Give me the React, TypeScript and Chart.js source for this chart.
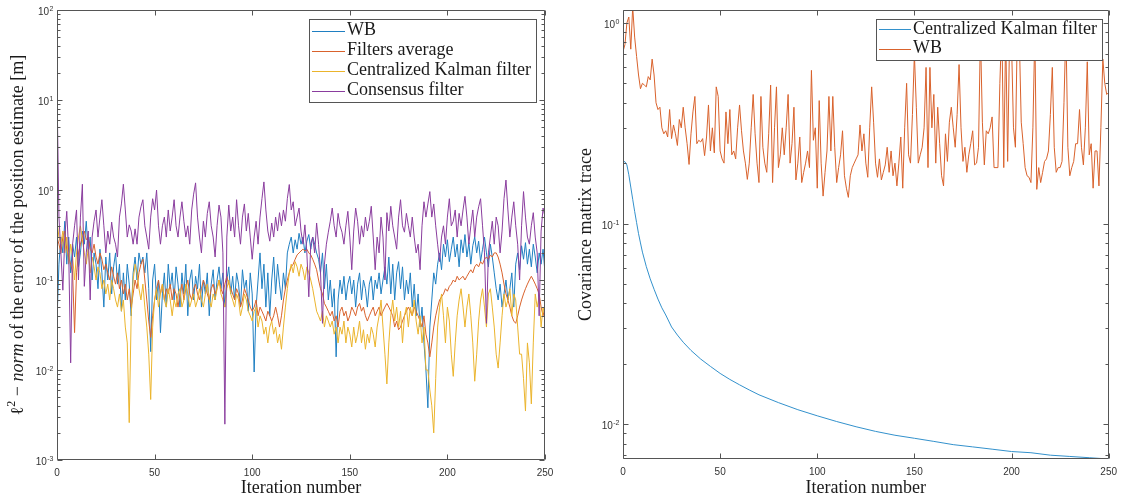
import React, { useEffect, useRef } from 'react';
import { Chart, registerables } from 'chart.js';

Chart.register(...registerables);

// ---------- categories ----------
const iterations: number[] = Array.from({ length: 251 }, (_, i) => i);
const xTickValues = [0, 50, 100, 150, 200, 250];

// ---------- left panel: l2-norm of position error ----------
const leftWB = [
  0.035, 0.15, 0.3, 0.2, 0.45, 0.15, 0.3, 0.12, 0.25, 0.18,
  0.3, 0.14, 0.2, 0.35, 0.25, 0.45, 0.2, 0.3, 0.1, 0.2,
  0.15, 0.08, 0.22, 0.12, 0.05, 0.18, 0.1, 0.2, 0.07, 0.14,
  0.2, 0.09, 0.15, 0.045, 0.12, 0.06, 0.15, 0.09, 0.04, 0.12,
  0.18, 0.1, 0.2, 0.15, 0.18, 0.12, 0.2, 0.08, 0.016, 0.1,
  0.15, 0.06, 0.1, 0.026, 0.07, 0.12, 0.05, 0.15, 0.08, 0.12,
  0.06, 0.14, 0.09, 0.05, 0.12, 0.07, 0.15, 0.04, 0.1, 0.13,
  0.06, 0.11, 0.08, 0.15, 0.05, 0.1, 0.07, 0.12, 0.04, 0.09,
  0.13, 0.06, 0.1, 0.14, 0.08, 0.12, 0.05, 0.1, 0.14, 0.07,
  0.11, 0.06, 0.12, 0.09, 0.05, 0.13, 0.08, 0.1, 0.045, 0.12,
  0.07, 0.0095, 0.05, 0.1, 0.2, 0.08, 0.15, 0.05, 0.12, 0.04,
  0.1, 0.18, 0.07, 0.15, 0.09, 0.06, 0.12, 0.08, 0.2, 0.25,
  0.3, 0.2, 0.28, 0.22, 0.33, 0.25, 0.3, 0.2, 0.27, 0.32,
  0.22, 0.3, 0.25, 0.2, 0.17, 0.12, 0.2, 0.08, 0.15, 0.06,
  0.1, 0.05, 0.08, 0.014, 0.06, 0.1, 0.07, 0.11, 0.06, 0.09,
  0.11, 0.07, 0.1, 0.05, 0.09, 0.12, 0.06, 0.1, 0.08, 0.05,
  0.09, 0.11, 0.06, 0.1, 0.08, 0.12, 0.07, 0.1, 0.14, 0.09,
  0.18, 0.07, 0.15, 0.06, 0.12, 0.16, 0.08, 0.14, 0.06, 0.1,
  0.07, 0.12, 0.05, 0.09, 0.04, 0.07, 0.03, 0.05, 0.02, 0.01,
  0.0038, 0.03, 0.06, 0.12, 0.09, 0.15, 0.2, 0.13, 0.25, 0.18,
  0.28, 0.16, 0.22, 0.3, 0.18, 0.25, 0.14, 0.28, 0.2, 0.32,
  0.18, 0.26, 0.15, 0.24, 0.3, 0.2, 0.27, 0.16, 0.22, 0.3,
  0.2, 0.14, 0.25, 0.18, 0.12, 0.08, 0.06, 0.09, 0.05, 0.07,
  0.1, 0.06, 0.08, 0.12, 0.05, 0.15, 0.2, 0.13, 0.24, 0.17,
  0.26, 0.15, 0.22, 0.14, 0.25, 0.18, 0.12, 0.2, 0.15, 0.22,
  0.12,
];

const leftFiltersAverage = [
  0.3, 0.25, 0.2, 0.3, 0.35, 0.22, 0.18, 0.15, 0.12, 0.026,
  0.12, 0.2, 0.25, 0.3, 0.35, 0.28, 0.3, 0.22, 0.2, 0.25,
  0.18, 0.15, 0.2, 0.17, 0.13, 0.15, 0.12, 0.1, 0.14, 0.11,
  0.09, 0.12, 0.08, 0.1, 0.07, 0.09, 0.06, 0.08, 0.05, 0.07,
  0.1, 0.08, 0.12, 0.15, 0.17, 0.1, 0.06, 0.035, 0.023, 0.04,
  0.06, 0.08, 0.1, 0.07, 0.09, 0.06, 0.08, 0.07, 0.09, 0.06,
  0.08, 0.07, 0.05, 0.07, 0.09, 0.06, 0.08, 0.1, 0.07, 0.06,
  0.08, 0.09, 0.07, 0.06, 0.08, 0.1, 0.085, 0.07, 0.06, 0.08,
  0.09, 0.07, 0.08, 0.1, 0.08, 0.07, 0.09, 0.11, 0.09, 0.08,
  0.07, 0.06, 0.08, 0.07, 0.05, 0.06, 0.08, 0.07, 0.06, 0.05,
  0.045, 0.05, 0.06, 0.04, 0.05, 0.045, 0.04, 0.035, 0.045, 0.04,
  0.035, 0.04, 0.05, 0.04, 0.03, 0.04, 0.06, 0.08, 0.1, 0.12,
  0.14, 0.15, 0.17, 0.19, 0.2, 0.21, 0.22, 0.21, 0.22, 0.2,
  0.19, 0.17, 0.15, 0.13, 0.1, 0.08, 0.07, 0.055, 0.05, 0.045,
  0.04, 0.045, 0.035, 0.04, 0.03, 0.045, 0.05, 0.04, 0.045, 0.035,
  0.04, 0.05, 0.045, 0.04, 0.05, 0.055, 0.045, 0.05, 0.04, 0.035,
  0.04, 0.045, 0.05, 0.04, 0.045, 0.05, 0.04, 0.045, 0.05, 0.055,
  0.05, 0.045, 0.04, 0.03, 0.035, 0.028, 0.03, 0.035, 0.04, 0.045,
  0.05, 0.045, 0.04, 0.05, 0.045, 0.04, 0.035, 0.03, 0.04, 0.025,
  0.02, 0.014, 0.02, 0.03, 0.04, 0.05, 0.06, 0.065, 0.07, 0.08,
  0.075, 0.085, 0.09, 0.1, 0.095, 0.11, 0.1, 0.105, 0.11, 0.1,
  0.11, 0.12, 0.13, 0.12, 0.14, 0.15, 0.14, 0.16, 0.15, 0.17,
  0.18, 0.17, 0.19, 0.18, 0.2, 0.2, 0.18, 0.15, 0.12, 0.09,
  0.07, 0.06, 0.05, 0.04, 0.035, 0.033, 0.04, 0.05, 0.06, 0.07,
  0.08, 0.09, 0.1, 0.11, 0.1, 0.09, 0.08, 0.07, 0.05, 0.04,
  0.05,
];

const leftCentralizedKF = [
  0.45, 0.3, 0.25, 0.35, 0.2, 0.3, 0.15, 0.25, 0.18, 0.1,
  0.2, 0.3, 0.4, 0.28, 0.2, 0.15, 0.22, 0.12, 0.18, 0.14,
  0.1, 0.14, 0.12, 0.08, 0.1, 0.07, 0.09, 0.06, 0.1, 0.08,
  0.06, 0.05, 0.07, 0.045, 0.06, 0.03, 0.02, 0.0026, 0.04, 0.1,
  0.15, 0.12, 0.08, 0.06, 0.09, 0.05, 0.03, 0.015, 0.0047, 0.03,
  0.06, 0.08, 0.05, 0.07, 0.09, 0.06, 0.05, 0.08, 0.06, 0.04,
  0.06, 0.05, 0.07, 0.08, 0.05, 0.06, 0.09, 0.07, 0.05, 0.06,
  0.07, 0.05, 0.06, 0.08, 0.06, 0.05, 0.07, 0.09, 0.06, 0.05,
  0.07, 0.06, 0.08, 0.1, 0.07, 0.06, 0.05, 0.08, 0.1, 0.07,
  0.06, 0.05, 0.07, 0.06, 0.04, 0.05, 0.07, 0.06, 0.045, 0.04,
  0.035, 0.045, 0.05, 0.03, 0.04, 0.035, 0.025, 0.03, 0.02, 0.03,
  0.035, 0.025, 0.03, 0.02, 0.025, 0.017, 0.03, 0.05, 0.08, 0.12,
  0.15, 0.12, 0.16, 0.14, 0.11, 0.15, 0.13, 0.1, 0.14, 0.12,
  0.1, 0.08, 0.06, 0.045, 0.04, 0.035, 0.045, 0.03, 0.04, 0.035,
  0.03, 0.035, 0.025, 0.03, 0.02, 0.03, 0.025, 0.035, 0.02, 0.03,
  0.025, 0.018, 0.03, 0.02, 0.025, 0.035, 0.02, 0.028, 0.017, 0.025,
  0.02, 0.03, 0.025, 0.018, 0.03, 0.04, 0.06, 0.03, 0.015, 0.007,
  0.02, 0.04, 0.06, 0.035, 0.05, 0.03, 0.045, 0.02, 0.04, 0.05,
  0.03, 0.05, 0.04, 0.06, 0.035, 0.025, 0.04, 0.02, 0.03, 0.01,
  0.01, 0.006, 0.004, 0.002, 0.008, 0.03, 0.05, 0.07, 0.04, 0.02,
  0.05, 0.035, 0.015, 0.0085, 0.02, 0.04, 0.06, 0.08, 0.05, 0.03,
  0.05, 0.07, 0.04, 0.02, 0.0075, 0.015, 0.035, 0.06, 0.08, 0.05,
  0.03, 0.07, 0.08, 0.05, 0.03, 0.015, 0.0105, 0.02, 0.04, 0.07,
  0.05, 0.06, 0.08, 0.04, 0.07, 0.06, 0.03, 0.015, 0.015, 0.008,
  0.0035, 0.02, 0.012, 0.0042, 0.02, 0.07, 0.05, 0.065, 0.03, 0.05,
  0.04,
];

const leftConsensus = [
  13, 0.5, 0.2, 0.077, 0.3, 0.58, 0.2, 0.012, 0.25, 0.4,
  0.6, 0.1, 0.5, 1.16, 0.085, 0.2, 0.35, 0.06, 0.3, 0.45,
  0.6, 0.3, 0.5, 0.78, 0.4, 0.2, 0.35, 0.25, 0.44, 0.3,
  0.25, 0.18, 0.5, 0.7, 1.16, 0.6, 0.3, 0.41, 0.35, 0.25,
  0.37, 0.25, 0.5, 0.65, 0.78, 0.4, 0.3, 0.22, 0.5, 0.8,
  0.6, 1.0, 0.4, 0.25, 0.4, 0.5, 0.3, 0.6, 0.35, 0.5,
  0.78, 0.4, 0.3, 0.5, 0.74, 0.45, 0.3, 0.4, 0.25, 0.6,
  0.9, 1.2, 0.5, 0.3, 0.2, 0.45, 0.3, 0.55, 0.74, 0.4,
  0.3, 0.18, 0.4, 0.68, 0.5, 0.2, 0.0025, 0.3, 0.68, 0.35,
  0.5, 0.3, 0.78, 0.4, 0.25, 0.5, 0.7, 0.35, 0.55, 0.3,
  0.17, 0.3, 0.45, 0.25, 0.5, 0.8, 1.23, 0.6, 0.35, 0.27,
  0.43, 0.3, 0.5, 0.35, 0.56, 0.4, 0.6, 0.45, 0.8, 1.15,
  0.6, 0.74, 0.4, 0.5, 0.63, 0.35, 0.25, 0.41, 0.2, 0.065,
  0.25, 0.3, 0.2, 0.43, 0.25, 0.12, 0.033, 0.15, 0.25, 0.34,
  0.45, 0.63, 0.4, 0.3, 0.55, 0.4, 0.34, 0.25, 0.4, 0.58,
  0.3, 0.13, 0.35, 0.63, 0.45, 0.25, 0.4, 0.3, 0.5, 0.35,
  0.45, 0.66, 0.3, 0.13, 0.3, 0.2, 0.5, 0.3, 0.1, 0.56,
  0.35, 0.66, 0.4, 0.3, 0.22, 0.5, 0.78, 0.4, 0.34, 0.55,
  0.4, 0.3, 0.5, 0.3, 0.2, 0.25, 0.13, 0.4, 0.74, 0.5,
  0.7, 0.96, 0.5, 0.7, 0.4, 0.25, 0.16, 0.3, 0.4, 0.25,
  0.5, 0.8, 0.4, 0.45, 0.6, 0.3, 0.55, 0.4, 0.6, 0.85,
  0.5, 0.25, 0.4, 0.6, 0.3, 0.5, 0.65, 0.8, 0.4, 0.2,
  0.033, 0.2, 0.3, 0.45, 0.25, 0.5, 0.4, 0.2, 0.35, 0.8,
  1.29, 0.6, 0.3, 0.5, 0.74, 0.4, 0.25, 0.1, 0.4, 0.96,
  0.5, 0.3, 0.25, 0.4, 0.56, 0.3, 0.2, 0.04, 0.35, 0.63,
  0.5,
];

// ---------- right panel: covariance matrix trace ----------
const rightWB = [
  0.72, 0.78, 1.0, 1.07, 0.74, 1.2, 0.85, 0.68, 0.55, 0.47,
  0.5, 0.49, 0.48, 0.54, 0.52, 0.66, 0.55, 0.4, 0.37, 0.38,
  0.3, 0.28, 0.29, 0.27, 0.37, 0.265, 0.31, 0.28, 0.245, 0.33,
  0.3, 0.38, 0.3, 0.25, 0.197, 0.28, 0.36, 0.43, 0.25, 0.26,
  0.255, 0.265, 0.218, 0.27, 0.39, 0.23, 0.3, 0.225, 0.48, 0.43,
  0.23, 0.21, 0.2, 0.36, 0.25, 0.37, 0.22, 0.23, 0.21, 0.3,
  0.39, 0.29, 0.23, 0.2, 0.166, 0.2, 0.3, 0.44, 0.28, 0.2,
  0.16, 0.43, 0.24, 0.2, 0.18, 0.28, 0.49, 0.16, 0.3, 0.48,
  0.19, 0.22, 0.3, 0.22, 0.3, 0.44, 0.2, 0.25, 0.38, 0.165,
  0.2, 0.27, 0.16, 0.18, 0.2, 0.23, 0.19, 0.58, 0.26, 0.3,
  0.15, 0.41, 0.2, 0.137, 0.18, 0.23, 0.43, 0.23, 0.43, 0.24,
  0.16, 0.19, 0.22, 0.29, 0.173, 0.15, 0.135, 0.173, 0.19, 0.2,
  0.21, 0.22, 0.31, 0.23, 0.28, 0.2, 0.17, 0.3, 0.48, 0.32,
  0.2, 0.17, 0.21, 0.165, 0.18, 0.196, 0.24, 0.18, 0.23, 0.173,
  0.2, 0.154, 0.2, 0.27, 0.15, 0.3, 0.5, 0.22, 0.2, 0.35,
  0.7, 0.38, 0.2, 0.22, 0.24, 0.3, 0.6, 0.19, 0.6, 0.3,
  0.44, 0.2, 0.38, 0.25, 0.173, 0.154, 0.28, 0.204, 0.32, 0.38,
  0.3, 0.24, 0.35, 0.62, 0.3, 0.204, 0.24, 0.18, 0.22, 0.25,
  0.29, 0.196, 0.2, 0.24, 0.9, 0.32, 0.196, 0.29, 0.28, 0.3,
  0.34, 0.19, 0.19, 0.19, 0.5, 1.0, 0.19, 0.9, 0.204, 0.85,
  0.8, 0.3, 0.24, 0.95, 0.85, 0.32, 0.25, 0.19, 0.173, 0.17,
  0.16, 0.3, 0.9, 0.148, 0.19, 0.16, 0.18, 0.204, 0.21, 0.23,
  0.35, 0.6, 0.24, 0.18, 0.19, 0.19, 0.204, 0.4, 0.95, 0.24,
  0.173, 0.19, 0.204, 0.25, 0.25, 0.37, 0.24, 0.196, 0.3, 0.64,
  0.22, 0.25, 0.15, 0.23, 0.23, 0.154, 0.3, 0.66, 0.5, 0.44,
  0.45,
];

const kalmanIterations = [
  0, 1, 2, 3, 4, 5, 6, 7, 8, 9, 10, 12, 14, 16, 18, 20, 22, 25, 28, 31,
  35, 40, 45, 50, 55, 60, 65, 70, 80, 90, 100, 110, 120, 130, 140, 150,
  160, 170, 180, 190, 200, 210, 220, 230, 240, 250,
];
const kalmanTrace = [
  0.205, 0.203, 0.196, 0.175, 0.152, 0.132, 0.115, 0.101, 0.089, 0.08,
  0.072, 0.061, 0.053, 0.047, 0.042, 0.038, 0.035, 0.0305, 0.0278, 0.0256,
  0.0233, 0.0211, 0.0194, 0.0179, 0.0167, 0.0157, 0.0148, 0.014, 0.0128, 0.0118,
  0.011, 0.0103, 0.0097, 0.0092, 0.0088, 0.0085, 0.0082, 0.0079, 0.0077, 0.0075,
  0.0073, 0.0072, 0.007, 0.0069, 0.0068, 0.0067,
];

// ---------- styling ----------
const C_BLUE = '#1f7fc2';
const C_ORANGE = '#d9622c';
const C_YELLOW = '#ebb42c';
const C_PURPLE = '#8a3d9e';
const C_BLUE_R = '#3391cc';
const AXIS_COLOR = '#555555';
const TICK_TEXT = '#333333';
const SANS = '"Liberation Sans", Arial, "DejaVu Sans", sans-serif';
const SERIF = '"Liberation Serif", "DejaVu Serif", serif';

type Seg = { text: string; italic?: boolean; sup?: boolean };

interface FrameOpts {
  yTitle: Seg[];
  yTitleX: number;
  legendBox: { x: number; y: number; w: number; h: number };
  legendRows: number[];
  legendLineX: [number, number];
  legendTextX: number;
  legendItems: { label: string; color: string }[];
}

function toXY(xs: number[], ys: number[]) {
  return ys.map((y, i) => ({ x: xs[i], y }));
}

function makeFramePlugin(o: FrameOpts) {
  return {
    id: 'matlabFrame',
    afterDraw(chart: any) {
      const ctx: CanvasRenderingContext2D = chart.ctx;
      const a = chart.chartArea;
      const xs = chart.scales.x;
      const ys = chart.scales.y;
      const L = Math.round(a.left) + 0.5;
      const R = Math.round(a.right) - 0.5;
      const T = Math.round(a.top) + 0.5;
      const B = Math.round(a.bottom) - 0.5;
      const MAJOR = 5;
      const MINOR = 3;
      ctx.save();
      ctx.strokeStyle = AXIS_COLOR;
      ctx.lineWidth = 1;
      ctx.beginPath();
      ctx.rect(L, T, R - L, B - T);
      for (const v of xTickValues) {
        const px = Math.round(xs.getPixelForValue(v)) + 0.5;
        ctx.moveTo(px, B);
        ctx.lineTo(px, B - MAJOR);
        ctx.moveTo(px, T);
        ctx.lineTo(px, T + MAJOR);
      }
      const ymin = ys.min;
      const ymax = ys.max;
      const majors: number[] = [];
      for (let e = Math.floor(Math.log10(ymin)); e <= Math.ceil(Math.log10(ymax)); e++) {
        for (let k = 1; k <= 9; k++) {
          const v = k * Math.pow(10, e);
          if (v < ymin * 0.999 || v > ymax * 1.001) continue;
          if (k === 1) majors.push(e);
          const len = k === 1 ? MAJOR : MINOR;
          const py = Math.round(ys.getPixelForValue(v)) + 0.5;
          ctx.moveTo(L, py);
          ctx.lineTo(L + len, py);
          ctx.moveTo(R, py);
          ctx.lineTo(R - len, py);
        }
      }
      ctx.stroke();

      // y tick labels: 10^e
      ctx.fillStyle = TICK_TEXT;
      ctx.textBaseline = 'alphabetic';
      ctx.textAlign = 'left';
      for (const e of majors) {
        const py = ys.getPixelForValue(Math.pow(10, e));
        const base = '10';
        const ex = e < 0 ? '-' + Math.abs(e) : String(e);
        ctx.font = '10px ' + SANS;
        const bw = ctx.measureText(base).width;
        ctx.font = '7px ' + SANS;
        const ew = ctx.measureText(ex).width;
        const x0 = a.left - 4 - ew - bw;
        ctx.font = '10px ' + SANS;
        ctx.fillText(base, x0, py + 5);
        ctx.font = '7px ' + SANS;
        ctx.fillText(ex, x0 + bw + 0.5, py + 1);
      }

      // y title (rotated, rich text)
      ctx.save();
      ctx.translate(o.yTitleX, (a.top + a.bottom) / 2);
      ctx.rotate(-Math.PI / 2);
      ctx.fillStyle = '#1a1a1a';
      ctx.textBaseline = 'middle';
      const fontFor = (s: Seg) => (s.italic ? 'italic ' : '') + (s.sup ? '12px ' : '18px ') + SERIF;
      let total = 0;
      const widths = o.yTitle.map((s) => {
        ctx.font = fontFor(s);
        const w = ctx.measureText(s.text).width;
        total += w;
        return w;
      });
      let cx = -total / 2;
      o.yTitle.forEach((s, i) => {
        ctx.font = fontFor(s);
        ctx.fillText(s.text, cx, s.sup ? -6 : 0);
        cx += widths[i];
      });
      ctx.restore();

      // legend box drawn over the plot, like MATLAB's
      const lb = o.legendBox;
      ctx.fillStyle = '#ffffff';
      ctx.fillRect(lb.x, lb.y, lb.w, lb.h);
      ctx.strokeStyle = AXIS_COLOR;
      ctx.lineWidth = 1;
      ctx.strokeRect(lb.x + 0.5, lb.y + 0.5, lb.w - 1, lb.h - 1);
      o.legendItems.forEach((it, i) => {
        const ry = o.legendRows[i];
        ctx.fillStyle = it.color;
        ctx.fillRect(o.legendLineX[0], Math.round(ry), o.legendLineX[1] - o.legendLineX[0], 1);
      });
      ctx.font = '18px ' + SERIF;
      ctx.textBaseline = 'middle';
      ctx.fillStyle = '#1a1a1a';
      o.legendItems.forEach((it, i) => {
        ctx.fillText(it.label, o.legendTextX, o.legendRows[i]);
      });
      ctx.restore();
    },
  };
}

function baseOptions(yMin: number, yMax: number, yWidth: number, xHeight: number, padRight: number) {
  return {
    responsive: false,
    animation: false as const,
    devicePixelRatio: 1,
    events: [] as any[],
    layout: { padding: { left: 0, right: padRight, top: 10, bottom: 0 } },
    elements: {
      point: { radius: 0 },
      line: { tension: 0, borderWidth: 1, borderJoinStyle: 'round' as const },
    },
    plugins: { legend: { display: false }, tooltip: { enabled: false } },
    scales: {
      x: {
        type: 'linear' as const,
        min: 0,
        max: 250,
        grid: { display: false, drawTicks: false },
        border: { display: false },
        ticks: {
          stepSize: 50,
          padding: 7,
          color: TICK_TEXT,
          font: { family: SANS, size: 10 },
          maxRotation: 0,
        },
        afterBuildTicks: (s: any) => {
          s.ticks = xTickValues.map((v) => ({ value: v }));
        },
        title: {
          display: true,
          text: 'Iteration number',
          color: '#1a1a1a',
          font: { family: SERIF, size: 18 },
          padding: { top: 0, bottom: 5 },
        },
        afterFit: (s: any) => {
          s.height = xHeight;
        },
      },
      y: {
        type: 'logarithmic' as const,
        min: yMin,
        max: yMax,
        grid: { display: false, drawTicks: false },
        border: { display: false },
        ticks: { display: false },
        afterFit: (s: any) => {
          s.width = yWidth;
        },
      },
    },
  };
}

function leftConfig(): any {
  return {
    type: 'line',
    data: {
      datasets: [
        { label: 'WB', data: toXY(iterations, leftWB), borderColor: C_BLUE, order: 4 },
        { label: 'Filters average', data: toXY(iterations, leftFiltersAverage), borderColor: C_ORANGE, order: 3 },
        { label: 'Centralized Kalman filter', data: toXY(iterations, leftCentralizedKF), borderColor: C_YELLOW, order: 2 },
        { label: 'Consensus filter', data: toXY(iterations, leftConsensus), borderColor: C_PURPLE, order: 1 },
      ],
    },
    options: baseOptions(0.001, 100, 57, 44, 17),
    plugins: [
      makeFramePlugin({
        yTitle: [
          { text: 'ℓ', italic: false },
          { text: '2', sup: true },
          { text: ' − ' },
          { text: 'norm', italic: true },
          { text: ' of the error of the position estimate [m]' },
        ],
        yTitleX: 18,
        legendBox: { x: 309, y: 19, w: 228, h: 84 },
        legendRows: [30.7, 50.7, 70.7, 90.7],
        legendLineX: [312, 345],
        legendTextX: 347,
        legendItems: [
          { label: 'WB', color: C_BLUE },
          { label: 'Filters average', color: C_ORANGE },
          { label: 'Centralized Kalman filter', color: C_YELLOW },
          { label: 'Consensus filter', color: C_PURPLE },
        ],
      }),
    ],
  };
}

function rightConfig(): any {
  return {
    type: 'line',
    data: {
      datasets: [
        { label: 'Centralized Kalman filter', data: toXY(kalmanIterations, kalmanTrace), borderColor: C_BLUE_R, order: 2 },
        { label: 'WB', data: toXY(iterations, rightWB), borderColor: C_ORANGE, order: 1 },
      ],
    },
    options: baseOptions(0.0067, 1.16, 61, 45, 12),
    plugins: [
      makeFramePlugin({
        yTitle: [{ text: 'Covariance matrix trace' }],
        yTitleX: 24,
        legendBox: { x: 314, y: 19, w: 227, h: 42 },
        legendRows: [29.3, 48.5],
        legendLineX: [317, 349],
        legendTextX: 351,
        legendItems: [
          { label: 'Centralized Kalman filter', color: C_BLUE_R },
          { label: 'WB', color: C_ORANGE },
        ],
      }),
    ],
  };
}

export default function App() {
  const leftRef = useRef<HTMLCanvasElement>(null);
  const rightRef = useRef<HTMLCanvasElement>(null);

  useEffect(() => {
    const c1 = new Chart(leftRef.current as HTMLCanvasElement, leftConfig());
    const c2 = new Chart(rightRef.current as HTMLCanvasElement, rightConfig());
    return () => {
      c1.destroy();
      c2.destroy();
    };
  }, []);

  return (
    <div style={{ position: 'fixed', left: 0, top: 0, width: 1124, height: 504, background: '#ffffff' }}>
      <canvas
        ref={leftRef}
        width={562}
        height={504}
        style={{ position: 'absolute', left: 0, top: 0, width: 562, height: 504 }}
      />
      <canvas
        ref={rightRef}
        width={562}
        height={504}
        style={{ position: 'absolute', left: 562, top: 0, width: 562, height: 504 }}
      />
    </div>
  );
}
